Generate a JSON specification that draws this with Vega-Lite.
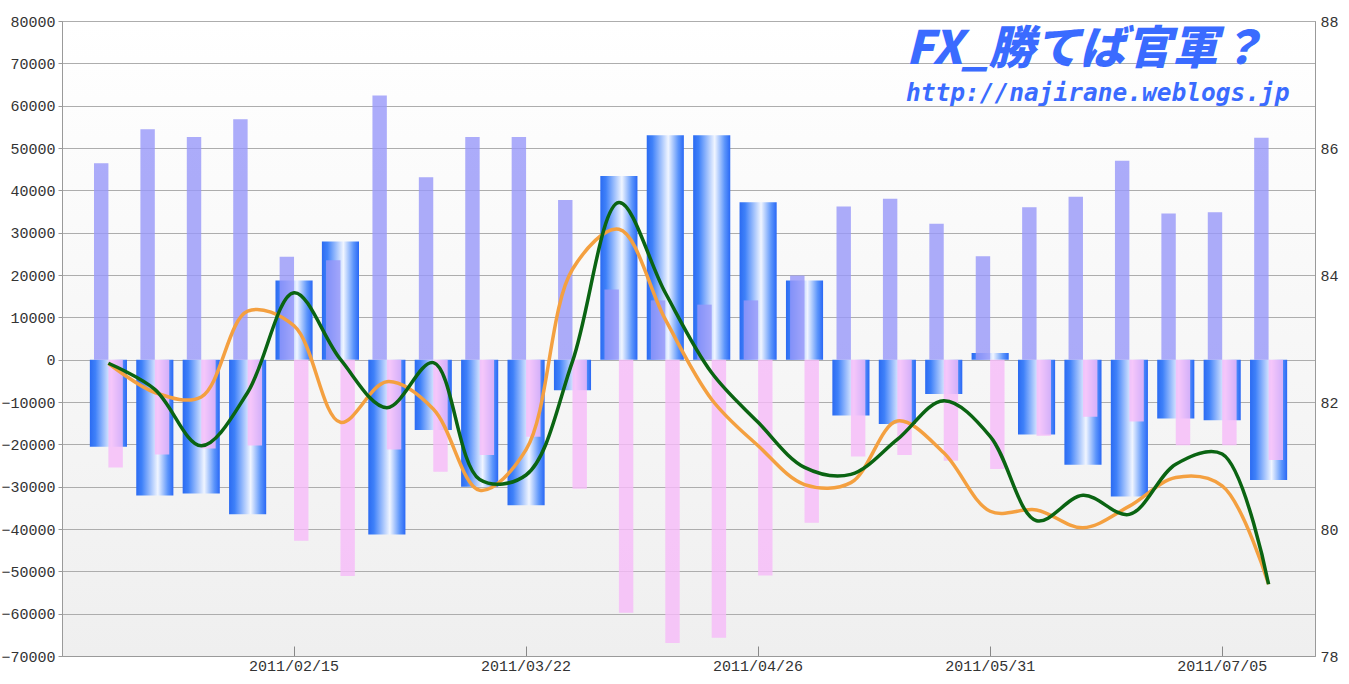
{
  "$schema": "https://vega.github.io/schema/vega-lite/v6.json",
  "width": 1253,
  "height": 635,
  "autosize": {"type": "none"},
  "padding": {"left": 62, "top": 21, "right": 34, "bottom": 28},
  "background": "#ffffff",
  "config": {
    "view": {
      "stroke": "#9a9a9a",
      "strokeWidth": 1,
      "fill": {"gradient": "linear", "x1": 0, "y1": 0, "x2": 0, "y2": 1, "stops": [{"offset": 0, "color": "#ffffff"}, {"offset": 1, "color": "#efefef"}]}
    },
    "axis": {"labelFont": "Liberation Mono", "labelFontSize": 15, "labelColor": "#333333", "title": null}
  },
  "title": {
    "text": "FX_勝てば官軍？",
    "subtitle": "http://najirane.weblogs.jp",
    "anchor": "start",
    "frame": "group",
    "orient": "top",
    "dx": 844,
    "offset": -92,
    "font": "Noto Sans CJK JP",
    "fontSize": 46,
    "fontWeight": 900,
    "fontStyle": "italic",
    "color": "#3a6bff",
    "subtitleFont": "DejaVu Sans Mono",
    "subtitleFontSize": 24.5,
    "subtitleFontWeight": "bold",
    "subtitleFontStyle": "italic",
    "subtitleColor": "#3a6bff",
    "subtitlePadding": 8
  },
  "datasets": {
    "bars": [
      {"date": "2011/01/18", "series": "long", "value": 46400}, {"date": "2011/01/18", "series": "short", "value": -25500}, {"date": "2011/01/18", "series": "net", "value": -20600},
      {"date": "2011/01/25", "series": "long", "value": 54400}, {"date": "2011/01/25", "series": "short", "value": -22400}, {"date": "2011/01/25", "series": "net", "value": -32100},
      {"date": "2011/02/01", "series": "long", "value": 52600}, {"date": "2011/02/01", "series": "short", "value": -21000}, {"date": "2011/02/01", "series": "net", "value": -31600},
      {"date": "2011/02/08", "series": "long", "value": 56800}, {"date": "2011/02/08", "series": "short", "value": -20300}, {"date": "2011/02/08", "series": "net", "value": -36500},
      {"date": "2011/02/15", "series": "long", "value": 24300}, {"date": "2011/02/15", "series": "short", "value": -42800}, {"date": "2011/02/15", "series": "net", "value": 18700},
      {"date": "2011/02/22", "series": "long", "value": 23500}, {"date": "2011/02/22", "series": "short", "value": -51100}, {"date": "2011/02/22", "series": "net", "value": 27900},
      {"date": "2011/03/01", "series": "long", "value": 62400}, {"date": "2011/03/01", "series": "short", "value": -21200}, {"date": "2011/03/01", "series": "net", "value": -41300},
      {"date": "2011/03/08", "series": "long", "value": 43100}, {"date": "2011/03/08", "series": "short", "value": -26500}, {"date": "2011/03/08", "series": "net", "value": -16600},
      {"date": "2011/03/15", "series": "long", "value": 52600}, {"date": "2011/03/15", "series": "short", "value": -22500}, {"date": "2011/03/15", "series": "net", "value": -30000},
      {"date": "2011/03/22", "series": "long", "value": 52600}, {"date": "2011/03/22", "series": "short", "value": -18200}, {"date": "2011/03/22", "series": "net", "value": -34400},
      {"date": "2011/03/29", "series": "long", "value": 37700}, {"date": "2011/03/29", "series": "short", "value": -30500}, {"date": "2011/03/29", "series": "net", "value": -7200},
      {"date": "2011/04/05", "series": "long", "value": 16600}, {"date": "2011/04/05", "series": "short", "value": -59800}, {"date": "2011/04/05", "series": "net", "value": 43400},
      {"date": "2011/04/12", "series": "long", "value": 14000}, {"date": "2011/04/12", "series": "short", "value": -66900}, {"date": "2011/04/12", "series": "net", "value": 53000},
      {"date": "2011/04/19", "series": "long", "value": 13000}, {"date": "2011/04/19", "series": "short", "value": -65700}, {"date": "2011/04/19", "series": "net", "value": 53000},
      {"date": "2011/04/26", "series": "long", "value": 14000}, {"date": "2011/04/26", "series": "short", "value": -51000}, {"date": "2011/04/26", "series": "net", "value": 37200},
      {"date": "2011/05/03", "series": "long", "value": 19900}, {"date": "2011/05/03", "series": "short", "value": -38500}, {"date": "2011/05/03", "series": "net", "value": 18700},
      {"date": "2011/05/10", "series": "long", "value": 36200}, {"date": "2011/05/10", "series": "short", "value": -22900}, {"date": "2011/05/10", "series": "net", "value": -13200},
      {"date": "2011/05/17", "series": "long", "value": 38000}, {"date": "2011/05/17", "series": "short", "value": -22500}, {"date": "2011/05/17", "series": "net", "value": -15200},
      {"date": "2011/05/24", "series": "long", "value": 32100}, {"date": "2011/05/24", "series": "short", "value": -23900}, {"date": "2011/05/24", "series": "net", "value": -8100},
      {"date": "2011/05/31", "series": "long", "value": 24400}, {"date": "2011/05/31", "series": "short", "value": -25800}, {"date": "2011/05/31", "series": "net", "value": 1600},
      {"date": "2011/06/07", "series": "long", "value": 36000}, {"date": "2011/06/07", "series": "short", "value": -18000}, {"date": "2011/06/07", "series": "net", "value": -17700},
      {"date": "2011/06/14", "series": "long", "value": 38500}, {"date": "2011/06/14", "series": "short", "value": -13500}, {"date": "2011/06/14", "series": "net", "value": -24800},
      {"date": "2011/06/21", "series": "long", "value": 47000}, {"date": "2011/06/21", "series": "short", "value": -14600}, {"date": "2011/06/21", "series": "net", "value": -32300},
      {"date": "2011/06/28", "series": "long", "value": 34500}, {"date": "2011/06/28", "series": "short", "value": -20200}, {"date": "2011/06/28", "series": "net", "value": -13900},
      {"date": "2011/07/05", "series": "long", "value": 34800}, {"date": "2011/07/05", "series": "short", "value": -20200}, {"date": "2011/07/05", "series": "net", "value": -14300},
      {"date": "2011/07/12", "series": "long", "value": 52400}, {"date": "2011/07/12", "series": "short", "value": -23700}, {"date": "2011/07/12", "series": "net", "value": -28400}
    ],
    "lines": [
      {"date": "2011/01/18", "series": "green", "value": 82.61}, {"date": "2011/01/18", "series": "orange", "value": 82.61},
      {"date": "2011/01/25", "series": "green", "value": 82.2}, {"date": "2011/01/25", "series": "orange", "value": 82.15},
      {"date": "2011/02/01", "series": "green", "value": 81.31}, {"date": "2011/02/01", "series": "orange", "value": 82.08},
      {"date": "2011/02/08", "series": "green", "value": 82.15}, {"date": "2011/02/08", "series": "orange", "value": 83.43},
      {"date": "2011/02/15", "series": "green", "value": 83.72}, {"date": "2011/02/15", "series": "orange", "value": 83.2},
      {"date": "2011/02/22", "series": "green", "value": 82.67}, {"date": "2011/02/22", "series": "orange", "value": 81.68},
      {"date": "2011/03/01", "series": "green", "value": 81.91}, {"date": "2011/03/01", "series": "orange", "value": 82.32},
      {"date": "2011/03/08", "series": "green", "value": 82.62}, {"date": "2011/03/08", "series": "orange", "value": 81.89},
      {"date": "2011/03/15", "series": "green", "value": 80.78}, {"date": "2011/03/15", "series": "orange", "value": 80.61},
      {"date": "2011/03/22", "series": "green", "value": 80.85}, {"date": "2011/03/22", "series": "orange", "value": 81.25},
      {"date": "2011/03/29", "series": "green", "value": 82.64}, {"date": "2011/03/29", "series": "orange", "value": 84.09},
      {"date": "2011/04/05", "series": "green", "value": 85.14}, {"date": "2011/04/05", "series": "orange", "value": 84.72},
      {"date": "2011/04/12", "series": "green", "value": 83.72}, {"date": "2011/04/12", "series": "orange", "value": 83.3},
      {"date": "2011/04/19", "series": "green", "value": 82.46}, {"date": "2011/04/19", "series": "orange", "value": 82.04},
      {"date": "2011/04/26", "series": "green", "value": 81.68}, {"date": "2011/04/26", "series": "orange", "value": 81.31},
      {"date": "2011/05/03", "series": "green", "value": 80.97}, {"date": "2011/05/03", "series": "orange", "value": 80.7},
      {"date": "2011/05/10", "series": "green", "value": 80.86}, {"date": "2011/05/10", "series": "orange", "value": 80.73},
      {"date": "2011/05/17", "series": "green", "value": 81.41}, {"date": "2011/05/17", "series": "orange", "value": 81.7},
      {"date": "2011/05/24", "series": "green", "value": 82.02}, {"date": "2011/05/24", "series": "orange", "value": 81.2},
      {"date": "2011/05/31", "series": "green", "value": 81.46}, {"date": "2011/05/31", "series": "orange", "value": 80.28},
      {"date": "2011/06/07", "series": "green", "value": 80.13}, {"date": "2011/06/07", "series": "orange", "value": 80.3},
      {"date": "2011/06/14", "series": "green", "value": 80.53}, {"date": "2011/06/14", "series": "orange", "value": 80.02},
      {"date": "2011/06/21", "series": "green", "value": 80.23}, {"date": "2011/06/21", "series": "orange", "value": 80.36},
      {"date": "2011/06/28", "series": "green", "value": 81.02}, {"date": "2011/06/28", "series": "orange", "value": 80.81},
      {"date": "2011/07/05", "series": "green", "value": 81.18}, {"date": "2011/07/05", "series": "orange", "value": 80.68},
      {"date": "2011/07/12", "series": "green", "value": 79.13}, {"date": "2011/07/12", "series": "orange", "value": 79.13}
    ]
  },
  "encoding": {
    "x": {
      "field": "date",
      "type": "ordinal",
      "scale": {"paddingInner": 0, "paddingOuter": 0.5},
      "axis": {
        "values": ["2011/02/15", "2011/03/22", "2011/04/26", "2011/05/31", "2011/07/05"],
        "labelAngle": 0,
        "tickSize": -10,
        "tickColor": "#888888",
        "domainColor": "#9a9a9a",
        "labelPadding": 12
      }
    }
  },
  "layer": [
    {
      "data": {"name": "bars"},
      "encoding": {
        "y": {
          "field": "value",
          "type": "quantitative",
          "scale": {"domain": [-70000, 80000], "nice": false, "zero": false},
          "axis": {
            "orient": "left",
            "values": [-70000, -60000, -50000, -40000, -30000, -20000, -10000, 0, 10000, 20000, 30000, 40000, 50000, 60000, 70000, 80000],
            "format": "d",
            "grid": true,
            "gridColor": "#adadad",
            "gridWidth": 1,
            "tickSize": 4,
            "tickColor": "#999999",
            "domainColor": "#9a9a9a",
            "labelPadding": 3
          }
        }
      },
      "layer": [
        {
          "transform": [{"filter": "datum.series === 'net'"}],
          "mark": {
            "type": "bar",
            "width": {"band": 0.8},
            "color": {
              "gradient": "linear",
              "x1": 0, "y1": 0, "x2": 1, "y2": 0,
              "stops": [
                {"offset": 0, "color": "#2b6bf2"},
                {"offset": 0.15, "color": "#3f81f9"},
                {"offset": 0.58, "color": "#f0f5ff"},
                {"offset": 0.85, "color": "#5c95fb"},
                {"offset": 1, "color": "#2968f5"}
              ]
            }
          }
        },
        {
          "transform": [{"filter": "datum.series !== 'net'"}],
          "mark": {"type": "bar", "opacity": 0.8},
          "encoding": {
            "xOffset": {"field": "series", "type": "nominal", "scale": {"domain": ["long", "short"], "paddingInner": 0, "paddingOuter": 0.61}},
            "color": {"field": "series", "type": "nominal", "scale": {"domain": ["long", "short"], "range": ["#9797f9", "#f6baf9"]}, "legend": null}
          }
        }
      ]
    },
    {
      "data": {"name": "lines"},
      "encoding": {
        "y": {
          "field": "value",
          "type": "quantitative",
          "scale": {"domain": [78, 88], "nice": false, "zero": false},
          "axis": {
            "orient": "right",
            "values": [78, 80, 82, 84, 86, 88],
            "grid": false,
            "tickSize": 0,
            "domainColor": "#9a9a9a",
            "labelPadding": 5
          }
        }
      },
      "layer": [
        {
          "transform": [{"filter": "datum.series === 'orange'"}],
          "mark": {"type": "line", "interpolate": "catmull-rom", "strokeWidth": 3.5, "color": "#f4a040"}
        },
        {
          "transform": [{"filter": "datum.series === 'green'"}],
          "mark": {"type": "line", "interpolate": "catmull-rom", "strokeWidth": 3.5, "color": "#0a6412"}
        }
      ]
    }
  ],
  "resolve": {"scale": {"y": "independent"}}
}
